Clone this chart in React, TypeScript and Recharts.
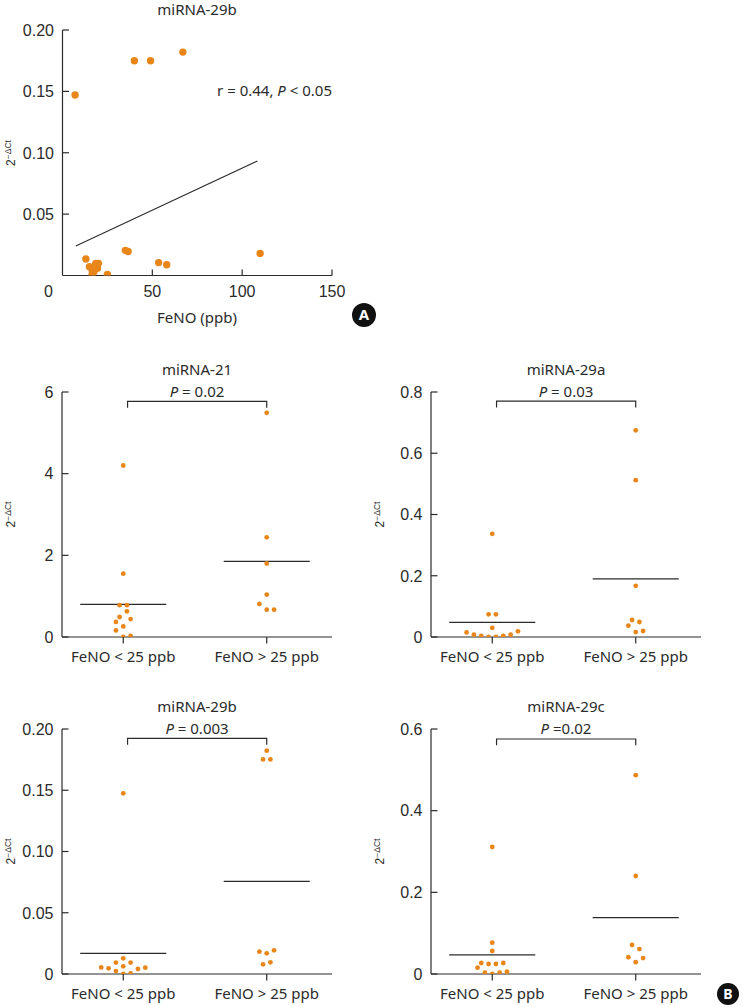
import React from 'react';
import { ScatterChart, Scatter, XAxis, YAxis } from 'recharts';

const ORANGE = '#E8861A';
const INK = '#2b2b2b';
const TICK_FONT = '"Liberation Sans", Arial, sans-serif';
const LABEL_FONT = '"Noto Sans", "Open Sans", sans-serif';

// ---- Panel A: FeNO vs miRNA-29b ----
const fenoPpb = [7, 13, 15, 16.5, 16.5, 17.5, 18, 18.5, 19, 19.5, 20, 25, 35, 36.5, 40, 49, 53.5, 58, 67, 110];
const mir29bByFeno = [0.147, 0.0135, 0.0072, 0.0045, 0.001, 0.003, 0.005, 0.0099, 0.0072, 0.006, 0.0099, 0.0008, 0.0205, 0.0195, 0.175, 0.175, 0.0105, 0.0088, 0.182, 0.018];
const fitFeno = [7.4, 108.5];
const fitMir29b = [0.024, 0.0933];
const fenoTicks = [0, 50, 100, 150];
const scatterYTicks = [0.05, 0.1, 0.15, 0.2];
const scatterYLabels = ['0.05', '0.10', '0.15', '0.20'];

// ---- Panel B: groups ----
const groups = ['FeNO < 25 ppb', 'FeNO > 25 ppb'];
const groupPos = [1, 2];

const mir21Low = [4.2, 1.55, 0.78, 0.78, 0.63, 0.49, 0.44, 0.37, 0.26, 0.16, 0.0, 0.03];
const mir21LowSlot = [0, 0, -1, 1, 1, -1, 2, -2, 0, -2, 0, 2];
const mir21High = [5.49, 2.44, 1.8, 1.04, 0.81, 0.67, 0.67];
const mir21HighSlot = [0, 0, 0, 0, -2, 0, 2];
const mir21Mean = [0.8, 1.85];

const mir29aLow = [0.337, 0.074, 0.074, 0.03, 0.015, 0.0076, 0.004, 0.0, 0.0, 0.004, 0.0076, 0.0185];
const mir29aLowSlot = [0, -1, 1, 0, -7, -5, -3, -1, 1, 3, 5, 7];
const mir29aHigh = [0.675, 0.512, 0.167, 0.0555, 0.049, 0.037, 0.016, 0.0196];
const mir29aHighSlot = [0, 0, 0, -1, 1, -2, 0, 2];
const mir29aMean = [0.048, 0.19];

const mir29bLow = [0.1475, 0.0128, 0.0093, 0.0093, 0.0054, 0.0046, 0.0063, 0.0024, 0.0041, 0.0052, 0.0, 0.0005];
const mir29bLowSlot = [0, 0, -2, 2, -6, -4, 0, -2, 4, 6, 0, 2];
const mir29bHigh = [0.1823, 0.1752, 0.1752, 0.0182, 0.0169, 0.0193, 0.0079, 0.0095];
const mir29bHighSlot = [0, -1, 1, -2, 0, 2, -1, 1];
const mir29bMean = [0.0169, 0.0756];

const mir29cLow = [0.311, 0.0767, 0.0563, 0.0155, 0.027, 0.0245, 0.0245, 0.027, 0.0033, 0.0, 0.0033, 0.0057];
const mir29cLowSlot = [0, 0, 0, -4, -3, -1, 1, 3, -2, 0, 2, 4];
const mir29cHigh = [0.487, 0.24, 0.071, 0.061, 0.041, 0.039, 0.029];
const mir29cHighSlot = [0, 0, -1, 1, -2, 2, 0];
const mir29cMean = [0.047, 0.138];

const SLOT = 0.0256;
const MEAN_HALF = 0.3;
const X_DOMAIN: [number, number] = [0.573, 2.455];

const noShape = () => <g />;

const yTickFactory = (ticks: number[], labels: string[]) => (props: any) => {
  const { x, y, payload } = props;
  const i = ticks.indexOf(payload.value);
  return (
    <g>
      <line x1={x} y1={y} x2={x + 6.5} y2={y} stroke={INK} strokeWidth={1.2} />
      <text x={x - 8.5} y={y} dy="0.36em" textAnchor="end" fontFamily={TICK_FONT} fontSize={16} fill={INK}>
        {i >= 0 ? labels[i] : payload.value}
      </text>
    </g>
  );
};

const groupTick = (props: any) => {
  const { x, y, payload } = props;
  const i = groupPos.indexOf(payload.value);
  return (
    <g>
      <line x1={x} y1={y} x2={x} y2={y + 6.5} stroke={INK} strokeWidth={1.2} />
      <text x={x} y={y + 20} dy="0.36em" textAnchor="middle" fontFamily={LABEL_FONT} fontSize={15} fill={INK}>
        {groups[i]}
      </text>
    </g>
  );
};

const fenoTick = (props: any) => {
  const { x, y, payload } = props;
  const v = payload.value;
  return (
    <g>
      {v !== 0 && <line x1={x} y1={y} x2={x} y2={y - 6} stroke={INK} strokeWidth={1.2} />}
      <text x={v === 0 ? x - 14 : x} y={y + 16} dy="0.36em" textAnchor="middle" fontFamily={TICK_FONT} fontSize={16} fill={INK}>
        {v}
      </text>
    </g>
  );
};

const YLabel = ({ x, y }: { x: number; y: number }) => (
  <text transform={`translate(${x},${y}) rotate(-90)`} textAnchor="middle" dy="0.36em" fontFamily={TICK_FONT} fill={INK}>
    <tspan fontSize={12}>2</tspan>
    <tspan fontSize={8.5} dy="-0.45em">{'\u2212\u0394Ct'}</tspan>
  </text>
);

const dot = (r: number) => (p: any) => <circle cx={p.cx} cy={p.cy} r={r} fill={ORANGE} />;

const ScatterPanel = () => {
  const pts = fenoPpb.map((x, i) => ({ x, y: mir29bByFeno[i] }));
  const fit = fitFeno.map((x, i) => ({ x, y: fitMir29b[i] }));
  const W = 380;
  const H = 340;
  return (
    <div style={{ position: 'absolute', left: 0, top: 0, width: W, height: H }}>
      <ScatterChart width={W} height={H} margin={{ top: 30, right: 48, bottom: 34.5, left: 12.5 }}>
        <XAxis type="number" dataKey="x" domain={[0, 150]} ticks={fenoTicks} interval={0} allowDataOverflow
          height={30} tickSize={0} tickMargin={0} tickLine={false} axisLine={{ stroke: INK, strokeWidth: 1.2 }} tick={fenoTick} />
        <YAxis type="number" dataKey="y" domain={[0, 0.2]} ticks={scatterYTicks} interval={0} allowDataOverflow
          width={50} tickSize={0} tickMargin={0} tickLine={false} axisLine={{ stroke: INK, strokeWidth: 1.2 }}
          tick={yTickFactory(scatterYTicks, scatterYLabels)} />
        <Scatter data={fit} line={{ stroke: INK, strokeWidth: 1.1 }} shape={noShape} isAnimationActive={false} />
        <Scatter data={pts} shape={dot(3.7)} isAnimationActive={false} />
      </ScatterChart>
      <svg width={W} height={H} style={{ position: 'absolute', left: 0, top: 0, pointerEvents: 'none' }}>
        <text x={197} y={14.5} textAnchor="middle" fontFamily={LABEL_FONT} fontSize={15} fill={INK}>miRNA-29b</text>
        <text x={332} y={96} textAnchor="end" fontFamily={LABEL_FONT} fontSize={15} fill={INK}>
          r = 0.44, <tspan fontStyle="italic">P</tspan> {'< 0.05'}
        </text>
        <text x={197} y={323} textAnchor="middle" fontFamily={LABEL_FONT} fontSize={15} fill={INK}>FeNO (ppb)</text>
        <YLabel x={9} y={153} />
        <circle cx={364} cy={315} r={12} fill="#111" />
        <text x={364} y={315} dy="0.36em" textAnchor="middle" fontFamily={LABEL_FONT} fontWeight={700} fontSize={15} fill="#fff">A</text>
      </svg>
    </div>
  );
};

interface DotPanelProps {
  left: number;
  top: number;
  title: string;
  pText: string;
  low: number[];
  lowSlot: number[];
  high: number[];
  highSlot: number[];
  means: number[];
  bracket: number;
  yMax: number;
  yTicks: number[];
  yLabels: string[];
}

const DotPanel = (p: DotPanelProps) => {
  const W = 370;
  const H = 330;
  const lowPts = p.low.map((y, i) => ({ x: groupPos[0] + p.lowSlot[i] * SLOT, y }));
  const highPts = p.high.map((y, i) => ({ x: groupPos[1] + p.highSlot[i] * SLOT, y }));
  const t = p.yMax * 0.026;
  const bx0 = groupPos[0] + 0.03;
  const bracket = [
    { x: bx0, y: p.bracket - t },
    { x: bx0, y: p.bracket },
    { x: groupPos[1], y: p.bracket },
    { x: groupPos[1], y: p.bracket - t },
  ];
  return (
    <div style={{ position: 'absolute', left: p.left, top: p.top, width: W, height: H }}>
      <ScatterChart width={W} height={H} margin={{ top: 40, right: 38, bottom: 15, left: 12 }}>
        <XAxis type="number" dataKey="x" domain={X_DOMAIN} ticks={groupPos} interval={0} allowDataOverflow
          height={30} tickSize={0} tickMargin={0} tickLine={false} axisLine={{ stroke: INK, strokeWidth: 1.2 }} tick={groupTick} />
        <YAxis type="number" dataKey="y" domain={[0, p.yMax]} ticks={p.yTicks} interval={0} allowDataOverflow
          width={50} tickSize={0} tickMargin={0} tickLine={false} axisLine={{ stroke: INK, strokeWidth: 1.2 }}
          tick={yTickFactory(p.yTicks, p.yLabels)} />
        {p.means.map((m, i) => (
          <Scatter key={i}
            data={[{ x: groupPos[i] - MEAN_HALF, y: m }, { x: groupPos[i] + MEAN_HALF, y: m }]}
            line={{ stroke: INK, strokeWidth: 1.2 }} shape={noShape} isAnimationActive={false} />
        ))}
        <Scatter data={bracket} line={{ stroke: INK, strokeWidth: 1.2 }} shape={noShape} isAnimationActive={false} />
        <Scatter data={lowPts} shape={dot(2.4)} isAnimationActive={false} />
        <Scatter data={highPts} shape={dot(2.4)} isAnimationActive={false} />
      </ScatterChart>
      <svg width={W} height={H} style={{ position: 'absolute', left: 0, top: 0, pointerEvents: 'none' }}>
        <text x={197} y={23.3} textAnchor="middle" fontFamily={LABEL_FONT} fontSize={15} fill={INK}>{p.title}</text>
        <text x={197} y={45} textAnchor="middle" fontFamily={LABEL_FONT} fontSize={15} fill={INK}>
          <tspan fontStyle="italic">P</tspan> {p.pText}
        </text>
        <YLabel x={9} y={162.5} />
      </svg>
    </div>
  );
};

export default function App() {
  return (
    <div style={{ position: 'absolute', left: 0, top: 0, width: 743, height: 1007, background: '#fff', overflow: 'hidden' }}>
      <ScatterPanel />
      <DotPanel left={0.3} top={351.7} title="miRNA-21" pText="= 0.02"
        low={mir21Low} lowSlot={mir21LowSlot} high={mir21High} highSlot={mir21HighSlot} means={mir21Mean}
        bracket={5.77} yMax={6} yTicks={[0, 2, 4, 6]} yLabels={['0', '2', '4', '6']} />
      <DotPanel left={369} top={351.7} title="miRNA-29a" pText="= 0.03"
        low={mir29aLow} lowSlot={mir29aLowSlot} high={mir29aHigh} highSlot={mir29aHighSlot} means={mir29aMean}
        bracket={0.77} yMax={0.8} yTicks={[0, 0.2, 0.4, 0.6, 0.8]} yLabels={['0', '0.2', '0.4', '0.6', '0.8']} />
      <DotPanel left={0.3} top={689} title="miRNA-29b" pText="= 0.003"
        low={mir29bLow} lowSlot={mir29bLowSlot} high={mir29bHigh} highSlot={mir29bHighSlot} means={mir29bMean}
        bracket={0.1924} yMax={0.2} yTicks={[0, 0.05, 0.1, 0.15, 0.2]} yLabels={['0', '0.05', '0.10', '0.15', '0.20']} />
      <DotPanel left={369} top={689} title="miRNA-29c" pText="=0.02"
        low={mir29cLow} lowSlot={mir29cLowSlot} high={mir29cHigh} highSlot={mir29cHighSlot} means={mir29cMean}
        bracket={0.5755} yMax={0.6} yTicks={[0, 0.2, 0.4, 0.6]} yLabels={['0', '0.2', '0.4', '0.6']} />
      <svg width={743} height={1007} style={{ position: 'absolute', left: 0, top: 0, pointerEvents: 'none' }}>
        <circle cx={728} cy={994} r={11} fill="#111" />
        <text x={728} y={994} dy="0.36em" textAnchor="middle" fontFamily={LABEL_FONT} fontWeight={700} fontSize={14} fill="#fff">B</text>
      </svg>
    </div>
  );
}
